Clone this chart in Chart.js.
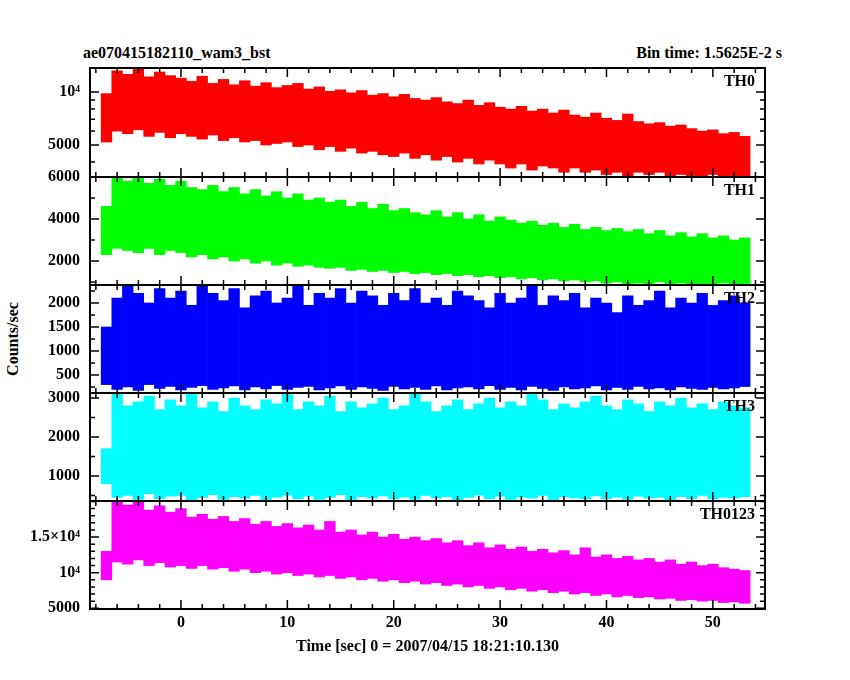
<!DOCTYPE html>
<html>
<head>
<meta charset="utf-8">
<script src="https://cdn.jsdelivr.net/npm/chart.js@4"></script>
<style>
  body { margin:0; background:#fff; }
  #wrap { position:relative; width:850px; height:680px; font-family:'Liberation Serif', serif; font-weight:bold; font-size:16px; }
  #wrap canvas { position:absolute; left:0; }
  .txt { position:absolute; white-space:nowrap; }
</style>
</head>
<body>
<div id="wrap">
  <div class="txt" style="left:83px;top:44px;">ae070415182110_wam3_bst</div>
  <div class="txt" style="right:68px;top:44px;">Bin time: 1.5625E-2 s</div>
  <div class="txt" style="left:-24px;top:330px;transform:rotate(-90deg);">Counts/sec</div>
</div>
<script>
// 1-second bins, centres from -7 to 53
var binTimes = [];
for (var t = -7; t <= 53; t++) binTimes.push(t);

var th0Hi = [9800,13200,12600,13500,12200,13000,12400,12000,11500,12300,
  11200,11800,11000,11600,10800,11300,10600,10900,11200,10400,
  10700,10100,10300,9900,10200,9600,9800,9400,9700,9200,
  9000,9300,8800,8600,9000,8400,8700,8200,8000,8300,
  7800,8000,7600,7900,7400,7200,7600,7100,6900,7500,
  6800,6600,6700,6400,6500,6200,6000,6100,5800,5900,
  5600];
var th0Lo = [5200,6000,5800,6100,5600,5900,5500,5800,5600,5400,
  5700,5300,5500,5200,5300,5000,5100,5200,4900,5000,
  4700,4900,4600,4800,4500,4600,4400,4300,4500,4200,
  4400,4100,4300,4000,4200,3900,4100,3900,3700,3900,
  3600,3800,3700,3500,3700,3500,3600,3400,3500,3300,
  3500,3400,3500,3300,3400,3350,3300,3400,3300,3350,
  3300];
var th1Hi = [4600,6000,5800,6000,5700,5900,5600,5800,5500,5400,
  5600,5300,5500,5200,5400,5100,5300,5000,5200,4900,
  5000,4800,4900,4600,4800,4500,4700,4400,4500,4300,
  4200,4400,4100,4300,4000,4200,3900,4100,3950,3800,
  3900,3700,3800,3600,3750,3500,3600,3450,3550,3400,
  3500,3300,3450,3200,3350,3150,3300,3100,3200,3000,
  3100];
var th1Lo = [2300,2600,2500,2400,2600,2300,2500,2400,2200,2300,
  2100,2200,2000,2100,1900,2000,1800,1900,1750,1800,
  1700,1650,1700,1550,1600,1500,1550,1450,1500,1400,
  1450,1350,1400,1300,1350,1250,1300,1200,1250,1150,
  1200,1100,1150,1050,1100,1000,1050,950,1000,900,
  950,900,1000,900,950,880,920,880,950,900,
  900];
var th2Hi = [1500,2100,2350,2200,2000,2300,2100,2250,1950,2375,
  2200,2050,2300,1900,2150,2250,2000,2100,2350,1950,
  2200,2100,2300,2000,2250,2150,1950,2200,2050,2300,
  2000,2100,1950,2250,2150,2050,1900,2200,2000,2100,
  2350,1950,2150,2050,2200,1900,2100,2000,1800,2150,
  1950,2050,2250,1900,2100,2000,2200,1950,2050,2150,
  2000];
var th2Lo = [300,200,250,180,300,220,260,190,240,280,
  200,230,270,190,250,210,280,200,240,260,
  190,230,270,200,250,220,180,260,210,240,
  200,270,190,230,250,210,280,200,240,190,
  260,220,180,250,210,230,270,190,240,200,
  260,210,230,190,250,220,200,240,210,230,
  260];
var th3Hi = [1700,3100,2800,2900,3050,2700,2950,2800,3100,2750,
  2900,2650,3000,2800,2700,2950,2850,3100,2700,2900,
  2800,3050,2650,2900,2750,2850,3000,2700,2800,3100,
  2900,2650,2800,2950,2700,2850,3000,2750,2900,2800,
  3100,2950,2700,2850,2750,2900,3050,2800,2700,2950,
  2850,2650,2900,2800,3000,2750,2850,2700,2900,2800,
  2750];
var th3Lo = [800,450,500,400,550,420,480,500,380,450,
  520,400,470,430,500,380,460,510,420,480,
  400,450,520,380,470,430,490,410,460,400,
  500,430,470,390,450,510,420,480,400,460,
  430,500,380,470,440,410,490,420,460,400,
  480,430,450,390,470,420,500,410,450,430,
  470];
var thAllHi = [13000,20000,19500,20000,18800,19400,18500,19000,17800,18200,
  17500,17900,17200,17600,16800,17200,16500,16900,16300,16700,
  16000,17200,15700,16000,15300,15700,15000,15400,14700,15000,
  14500,14800,14200,14500,13800,14200,13500,13900,13300,13600,
  13000,13300,12800,13100,12500,13500,12200,12500,12000,12300,
  11800,12000,11500,11800,11200,11500,11000,11200,10700,10500,
  10300];
var thAllLo = [9000,11500,11200,11800,11000,11400,10800,11000,10600,11000,
  10500,10700,10200,10500,10000,10200,9800,10000,9600,9800,
  9400,9600,9200,9400,9000,9200,8800,9000,8600,8800,
  8400,8600,8200,8400,8000,8200,7800,8000,7600,7800,
  7400,7600,7200,7400,7000,7200,6800,7000,6600,6800,
  6500,6600,6300,6400,6100,6200,6000,6100,5800,5900,
  5700];

var xTicks = [0, 10, 20, 30, 40, 50];
var xTitle = 'Time [sec] 0 = 2007/04/15 18:21:10.130';

var panels = [
  {name:'TH0', hi:th0Hi, lo:th0Lo, color:'#ff0000', top:68, bottom:177, type:'logarithmic', min:3290, max:13700,
   major:[5000,10000], labels:{5000:'5000',10000:'10⁴'}, minor:[4000,6000,7000,8000,9000]},
  {name:'TH1', hi:th1Hi, lo:th1Lo, color:'#00ff00', top:177, bottom:285, type:'linear', min:857, max:6000,
   major:[2000,4000,6000], minor:[1000,3000,5000]},
  {name:'TH2', hi:th2Hi, lo:th2Lo, color:'#0000ff', top:285, bottom:393, type:'linear', min:125, max:2375,
   major:[500,1000,1500,2000], minor:[250,750,1250,1750,2250]},
  {name:'TH3', hi:th3Hi, lo:th3Lo, color:'#00ffff', top:393, bottom:501, type:'linear', min:359, max:3128,
   major:[1000,2000,3000], minor:[500,1500,2500]},
  {name:'TH0123', hi:thAllHi, lo:thAllLo, color:'#ff00ff', top:501, bottom:609, type:'linear', min:4900, max:20070,
   major:[5000,10000,15000], labels:{5000:'5000',10000:'10⁴',15000:'1.5×10⁴'},
   minor:[6000,7000,8000,9000,11000,12000,13000,14000,16000,17000,18000,19000,20000]}
];

var FONT = {family:"'Liberation Serif', serif", size:16, weight:'bold'};
var PAD = 14;

var framePlugin = {
  id: 'frame',
  afterDatasetsDraw: function(chart) {
    var p = chart.options.plugins.frame;
    var a = chart.chartArea, ctx = chart.ctx;
    var xs = chart.scales.x, ys = chart.scales.y;
    ctx.save();
    ctx.strokeStyle = '#000';
    ctx.lineWidth = 1.5;
    ctx.beginPath();
    function yt(v, len) {
      var py = ys.getPixelForValue(v);
      ctx.moveTo(a.left, py); ctx.lineTo(a.left + len, py);
      ctx.moveTo(a.right, py); ctx.lineTo(a.right - len, py);
    }
    function xt(v, len) {
      var px = xs.getPixelForValue(v);
      ctx.moveTo(px, a.top); ctx.lineTo(px, a.top + len);
      ctx.moveTo(px, a.bottom); ctx.lineTo(px, a.bottom - len);
    }
    p.major.forEach(function(v){ yt(v, 9); });
    p.minor.forEach(function(v){ if (v > ys.min && v < ys.max) yt(v, 5); });
    for (var v = -8; v <= 54; v += 2) xt(v, v % 10 === 0 ? 9 : 5);
    ctx.stroke();
    ctx.lineWidth = 2;
    ctx.strokeRect(a.left, a.top, a.right - a.left, a.bottom - a.top);
    ctx.fillStyle = '#000';
    ctx.font = "bold 16px 'Liberation Serif', serif";
    ctx.textAlign = 'right';
    ctx.textBaseline = 'top';
    ctx.fillText(p.name, a.right - 10, a.top + 6);
    if (p.last) {
      ctx.textAlign = 'center';
      xTicks.forEach(function(v){ ctx.fillText(String(v), xs.getPixelForValue(v), a.bottom + 6); });
      ctx.fillText(xTitle, (a.left + a.right) / 2, a.bottom + 30);
    }
    ctx.restore();
  }
};

var wrap = document.getElementById('wrap');
panels.forEach(function(p, i) {
  var last = i === panels.length - 1;
  var extraBottom = last ? 60 : PAD;
  var h = (p.bottom - p.top) + PAD + extraBottom;
  var cv = document.createElement('canvas');
  cv.width = 850;
  cv.height = h;
  cv.style.top = (p.top - PAD) + 'px';
  cv.style.width = '850px';
  cv.style.height = h + 'px';
  wrap.appendChild(cv);

  var pts = binTimes.map(function(t, k){ return {x: t, y: [p.lo[k], p.hi[k]]}; });

  new Chart(cv, {
    type: 'bar',
    data: { datasets: [{ data: pts, backgroundColor: p.color, borderWidth: 0,
      barPercentage: 1, categoryPercentage: 1 }] },
    options: {
      responsive: false,
      maintainAspectRatio: false,
      animation: false,
      devicePixelRatio: 1,
      layout: { padding: { left: 0, right: 85, top: PAD, bottom: extraBottom } },
      plugins: {
        legend: { display: false },
        tooltip: { enabled: false },
        frame: { name: p.name, major: p.major, minor: p.minor, last: last }
      },
      scales: {
        x: { type: 'linear', min: -8.55, max: 54.9, display: false, offset: false },
        y: {
          type: p.type, min: p.min, max: p.max,
          grid: { display: false, drawTicks: false },
          border: { display: false },
          afterFit: function(s){ s.width = 90; s.paddingTop = 0; s.paddingBottom = 0; },
          afterBuildTicks: function(s){ s.ticks = p.major.map(function(v){ return {value: v}; }); },
          ticks: {
            color: '#000', font: FONT, padding: 10, autoSkip: false,
            callback: function(v){ return p.labels && p.labels[v] ? p.labels[v] : String(v); }
          }
        }
      }
    },
    plugins: [framePlugin]
  });
});
</script>
</body>
</html>
